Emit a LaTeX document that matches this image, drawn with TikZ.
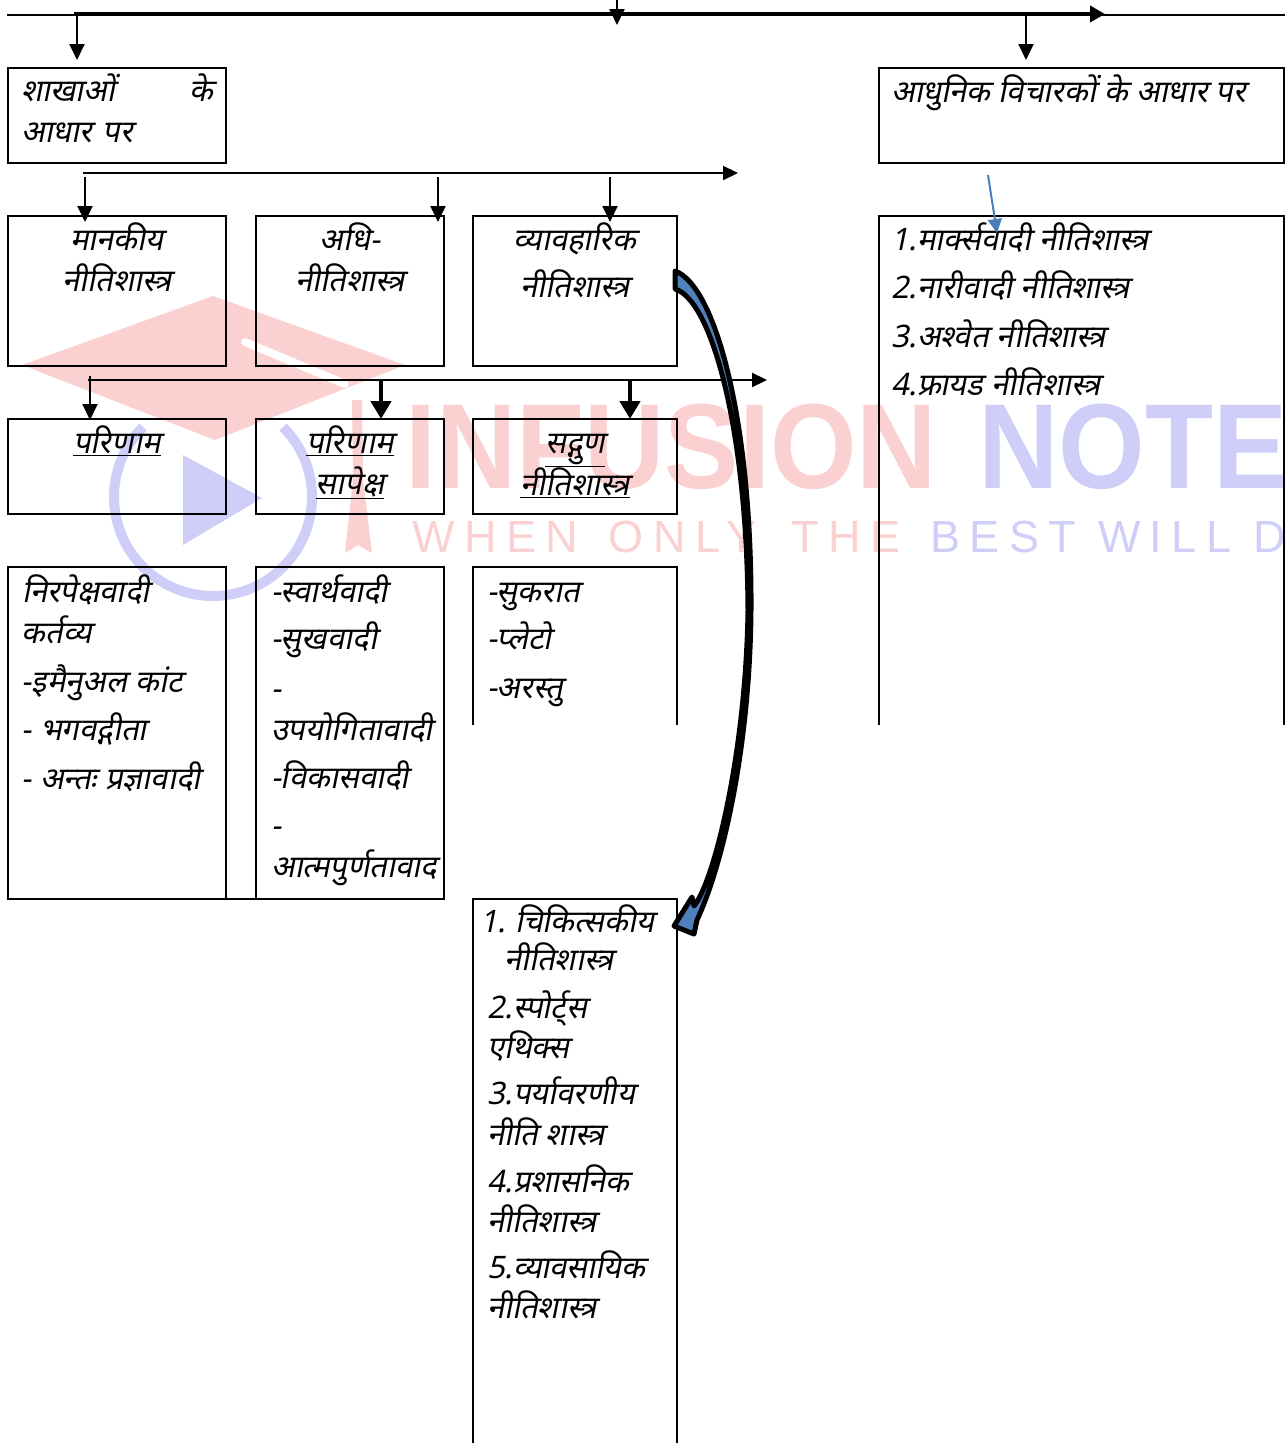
\documentclass[tikz,border=0pt]{standalone}
\usepackage{fontspec}
\setmainfont[Script=Devanagari,FakeSlant=0.2]{Noto Sans}
\newfontfamily\wmfont[FakeStretch=0.92]{Liberation Sans}
\newfontfamily\wmspace[LetterSpace=21]{Liberation Sans}
\usetikzlibrary{arrows.meta, positioning}
\definecolor{infpink}{HTML}{fbd0d0}
\definecolor{infblue}{HTML}{cecef8}
\definecolor{arrowblue}{HTML}{4f81bd}
\definecolor{linkblue}{HTML}{4a7ebb}
\newcommand{\firstline}{\rule{0pt}{38pt}}
\tikzset{
	boxline/.style={line width=1.9pt},
	box/.style={boxline, draw, anchor=north west, inner sep=0pt, outer sep=0pt},
	openbox/.style={anchor=north west, inner sep=0pt, outer sep=0pt},
	lefttext/.style={inner sep=0pt, outer sep=0pt, align=left},
	midtext/.style={inner sep=0pt, outer sep=0pt, align=center},
	bus/.style={line width=2.2pt, -{Triangle[length=15pt,width=14pt]}},
	thickbus/.style={line width=4pt, -{Triangle[length=15pt,width=16pt]}},
	drop/.style={line width=2pt, -{Triangle[length=16pt,width=15pt]}},
	thickdrop/.style={line width=4.5pt, -{Triangle[length=18pt,width=20pt]}}
}

\begin{document}
\begin{tikzpicture}[x=1pt, y=-1pt, font=\fontsize{31}{41}\selectfont]
	\path[use as bounding box, clip] (0,0) rectangle (1285,1443);
	\fill[infpink] (22,365) -- (213,296) -- (405,365) -- (215,440) -- cycle;
	\draw[white, line width=8pt, line cap=round] (245,342) -- (345,384);
	\draw[infblue, line width=10pt] (143,427) arc[start angle=135, delta angle=270, radius=99pt];
	\fill[infblue] (183,455) -- (262,498) -- (183,545) -- cycle;
	\fill[infpink] (352,400) -- (362,400) -- (363,480) -- (372,553) -- (358,545) -- (345,553) -- (353,480) -- cycle;
	\node[anchor=west, inner sep=0pt, text=infpink, font=\fontsize{121}{121}\selectfont\wmfont\bfseries] (infusion) at (405,447) {INFUSION};
	\node[anchor=west, inner sep=0pt, text=infblue, font=\fontsize{121}{121}\selectfont\wmfont\bfseries] (note) at (978,447) {NOTE};
	\node[anchor=west, inner sep=0pt, text=infpink, font=\fontsize{45}{45}\selectfont\wmspace] (when) at (412,537) {WHEN\hspace{31pt}ONLY\hspace{35pt}THE};
	\node[anchor=west, inner sep=0pt, text=infblue, font=\fontsize{45}{45}\selectfont\wmspace] (best) at (930,537) {BEST WILL D};

	\node[box, minimum width=218pt, minimum height=95pt] (shakha) at (8,68) {};
	\node[box, minimum width=405pt, minimum height=95pt] (adhunik) at (879,68) {};
	\node[box, minimum width=218pt, minimum height=150pt] (manak) at (8,216) {};
	\node[box, minimum width=188pt, minimum height=150pt] (adhi) at (256,216) {};
	\node[box, minimum width=204pt, minimum height=150pt] (vyav) at (473,216) {};
	\node[box, minimum width=218pt, minimum height=95pt] (parinam) at (8,419) {};
	\node[box, minimum width=188pt, minimum height=95pt] (sapeksh) at (256,419) {};
	\node[box, minimum width=204pt, minimum height=95pt] (sadgun) at (473,419) {};
	\node[box, minimum width=218pt, minimum height=332pt] (nirpeksh) at (8,567) {};
	\node[box, minimum width=188pt, minimum height=332pt] (svarth) at (256,567) {};
	\node[openbox, minimum width=204pt, minimum height=158pt] (sukrat) at (473,567) {};
	\node[openbox, minimum width=405pt, minimum height=509pt] (vichar) at (879,216) {};
	\node[openbox, minimum width=204pt, minimum height=544pt] (chikitsa) at (473,899) {};
	\draw[boxline] (nirpeksh.south east) -- (svarth.south west);
	\draw[boxline] (sukrat.south west) -- (sukrat.north west) -- (sukrat.north east) -- (sukrat.south east);
	\draw[boxline] (vichar.south west) -- (vichar.north west) -- (vichar.north east) -- (vichar.south east);
	\draw[boxline] (chikitsa.south west) -- (chikitsa.north west) -- (chikitsa.north east) -- (chikitsa.south east);

	\node[lefttext, text width=192pt, below right=-5pt and 13pt of shakha.north west] (shakhatext) {\firstline शाखाओं\hfill के\\आधार पर};
	\node[lefttext, below right=-4pt and 12pt of adhunik.north west] (adhuniktext) {\firstline आधुनिक विचारकों के आधार पर};
	\node[midtext, below=-4pt of manak.north] (manaktext) {\firstline मानकीय\\नीतिशास्त्र};
	\node[midtext, below=-4pt of adhi.north] (adhitext) {\firstline अधि-\\नीतिशास्त्र};
	\node[midtext, below=-4pt of vyav.north] (vyavtext) {\firstline व्यावहारिक\\[6pt]नीतिशास्त्र};
	\node[midtext, below=-4pt of parinam.north] (parinamtext) {\firstline\underline{परिणाम}};
	\node[midtext, below=-4pt of sapeksh.north] (sapekshtext) {\firstline\underline{परिणाम}\\\underline{सापेक्ष}};
	\node[midtext, below=-4pt of sadgun.north] (sadguntext) {\firstline\underline{सद्गुण}\\\underline{नीतिशास्त्र}};
	\node[lefttext, below right=-3pt and 14pt of nirpeksh.north west] (nirpekshtext) {\firstline निरपेक्षवादी\\कर्तव्य\\[8pt]-इमैनुअल कांट\\[7pt]- भगवद्गीता\\[8pt]- अन्तः प्रज्ञावादी};
	\node[lefttext, below right=-3pt and 15pt of svarth.north west] (svarthtext) {\firstline -स्वार्थवादी\\[6pt]-सुखवादी\\[9pt]-\\उपयोगितावादी\\[7pt]-विकासवादी\\[7pt]-\\आत्मपुर्णतावाद};
	\node[lefttext, below right=-3pt and 14pt of sukrat.north west] (sukrattext) {\firstline -सुकरात\\[6pt]-प्लेटो\\[8pt]-अरस्तु};
	\node[lefttext, below right=-4pt and 12pt of vichar.north west] (vichartext) {\firstline 1.मार्क्सवादी नीतिशास्त्र\\[7pt]2.नारीवादी नीतिशास्त्र\\[8pt]3.अश्वेत नीतिशास्त्र\\[7pt]4.फ्रायड नीतिशास्त्र};
	\node[lefttext, below right=-5pt and 7pt of chikitsa.north west] (chikitsatext) {\firstline 1.\hspace{9pt}चिकित्सकीय\\[-3pt]\hspace{24pt}नीतिशास्त्र\\[7pt]\hspace{7pt}2.स्पोर्ट्स\\[-1pt]\hspace{7pt}एथिक्स\\[5pt]\hspace{7pt}3.पर्यावरणीय\\\hspace{7pt}नीति शास्त्र\\[6pt]\hspace{7pt}4.प्रशासनिक\\[-1pt]\hspace{7pt}नीतिशास्त्र\\[5pt]\hspace{7pt}5.व्यावसायिक\\[-1pt]\hspace{7pt}नीतिशास्त्र};

	\coordinate (topleft) at (7,15);
	\coordinate (topright) at (1285,15);
	\coordinate (topstart) at (74,14);
	\coordinate (topend) at (1105,14);
	\coordinate (dropa) at (77,14);
	\coordinate (dropb) at (617,0);
	\coordinate (dropbend) at (617,25);
	\coordinate (dropc) at (1026,14);
	\draw[line width=1.5pt] (topleft) -- (topright);
	\draw[thickbus] (topstart) -- (topend);
	\draw[drop] (dropa) -- ([yshift=8pt]dropa |- shakha.north);
	\draw[drop] (dropb) -- (dropbend);
	\draw[drop] (dropc) -- ([yshift=8pt]dropc |- adhunik.north);

	\coordinate (secondstart) at (83,173);
	\coordinate (secondend) at (738,173);
	\coordinate (dropd) at (85,177);
	\coordinate (drope) at (438,177);
	\coordinate (dropf) at (610,177);
	\draw[bus] (secondstart) -- (secondend);
	\draw[drop] (dropd) -- ([yshift=-6pt]dropd |- manak.north);
	\draw[drop] (drope) -- ([yshift=-6pt]drope |- adhi.north);
	\draw[drop] (dropf) -- ([yshift=-6pt]dropf |- vyav.north);

	\coordinate (thirdstart) at (88,380);
	\coordinate (thirdend) at (767,380);
	\coordinate (dropg) at (90,376);
	\coordinate (droph) at (381,380);
	\coordinate (dropi) at (630,380);
	\draw[bus] (thirdstart) -- (thirdend);
	\draw[drop] (dropg) -- ([yshift=-1pt]dropg |- parinam.north);
	\draw[thickdrop] (droph) -- (droph |- sapeksh.north);
	\draw[thickdrop] (dropi) -- (dropi |- sadgun.north);

	\coordinate (linkstart) at (988,175);
	\coordinate (linkend) at (997,233);
	\draw[linkblue, line width=2pt, -{Triangle[length=14pt,width=14pt]}] (linkstart) -- (linkend);

	\draw[fill=arrowblue, line width=5pt, line join=round] (675,271) .. controls (715,285) and (752,420) .. (751,610) .. controls (750,740) and (725,860) .. (697,920) -- (694,934) -- (674,926) -- (692,897) -- (694,906) .. controls (715,880) and (746,750) .. (748,610) .. controls (747,430) and (712,300) .. (675,289) -- cycle;
\end{tikzpicture}
\end{document}
